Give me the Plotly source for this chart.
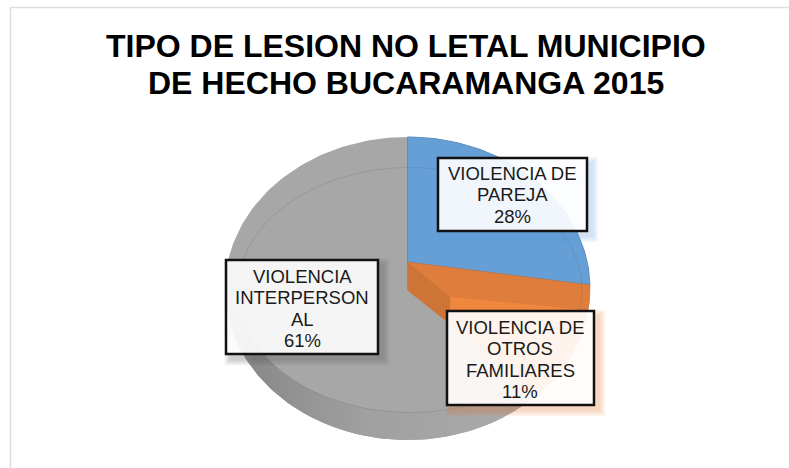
import numpy as np
import plotly.graph_objects as go

# ---- data ----
categories = ["VIOLENCIA DE PAREJA", "VIOLENCIA DE OTROS FAMILIARES", "VIOLENCIA INTERPERSONAL"]
values = [28, 11, 61]
label_lines = [
    ["VIOLENCIA DE", "PAREJA"],
    ["VIOLENCIA DE", "OTROS", "FAMILIARES"],
    ["VIOLENCIA", "INTERPERSON", "AL"],
]
title_lines = ["TIPO DE LESION NO LETAL MUNICIPIO", "DE HECHO BUCARAMANGA 2015"]

# ---- styling / layout ----
W, H = 789, 468
FONT = "Liberation Sans, Arial, sans-serif"
BLUE, ORANGE, ORANGE_LIGHT, GREY = "#659fd6", "#df7d3c", "#f0873f", "#a7a7a7"
CX, CY, RX, RY = 407.5, 288.5, 182.5, 151.5      # outer silhouette
IX, IY, IRX, IRY = 410, 290, 172, 122.5          # bevel line
APEX_TOP, APEX_BOT = 262, 290
TILT = 0.66
BOXES = [  # x0, x1, y0, y1, text centre x, first line y, shadow colour
    (438, 587, 158, 231, 512.5, 173, "91,155,213"),
    (447, 594, 311, 405, 520, 327, "237,125,49"),
    (226, 378, 260, 354, 302, 276, "70,70,70"),
]
LINE_PITCH = 21.6


def ray_hit(x0, y0, dx, dy):
    """Where the ray from (x0, y0) leaves the silhouette ellipse."""
    a = (dx / RX) ** 2 + (dy / RY) ** 2
    b = 2 * ((x0 - CX) * dx / RX**2 + (y0 - CY) * dy / RY**2)
    c = ((x0 - CX) / RX) ** 2 + ((y0 - CY) / RY) ** 2 - 1
    return (-b + np.sqrt(b * b - 4 * a * c)) / (2 * a)


def rim_angle(x, y):
    return np.arctan2((y - CY) / RY, (x - CX) / RX)


def rim(p0, p1, n=60):
    t0, t1 = rim_angle(*p0), rim_angle(*p1)
    while t1 < t0:
        t1 += 2 * np.pi
    t = np.linspace(t0, t1, n)
    return CX + RX * np.cos(t), CY + RY * np.sin(t)


def on_rim(theta, y0):
    dx, dy = np.sin(theta), -np.cos(theta) * TILT
    s = ray_hit(CX, y0, dx, dy)
    return CX + s * dx, y0 + s * dy


cum = np.cumsum(values) / sum(values) * 2 * np.pi
p_top = on_rim(0, APEX_TOP)
p_blue = on_rim(cum[0], APEX_TOP)
p_orange = on_rim(cum[1], APEX_BOT)

fig = go.Figure()
t = np.linspace(0, 2 * np.pi, 241)

# whole silhouette
fig.add_trace(go.Scatter(x=CX + RX * np.cos(t), y=CY + RY * np.sin(t), mode="lines",
                         fill="toself", fillcolor=GREY, line=dict(width=0),
                         hoverinfo="skip", showlegend=False))

# side wall: crescent between rim and bevel on the lower left
ta = np.linspace(np.radians(58), np.radians(172), 120)
wx = np.r_[CX + RX * np.cos(ta), (IX + IRX * np.cos(ta))[::-1]]
wy = np.r_[CY + RY * np.sin(ta), (IY + IRY * np.sin(ta))[::-1]]
fig.add_trace(go.Scatter(x=wx, y=wy, mode="lines", fill="toself", line=dict(width=0),
                         fillgradient=dict(type="horizontal",
                                           colorscale=[[0, "#a7a7a7"], [0.1, "#8a8a8a"], [0.5, "#a0a0a0"], [1, "#a9a9a9"]]),
                         hoverinfo="skip", showlegend=False))

# blue wedge
rx_, ry_ = rim(p_top, p_blue)
fig.add_trace(go.Scatter(x=np.r_[CX, rx_, CX], y=np.r_[APEX_TOP, ry_, APEX_TOP], mode="lines",
                         fill="toself", fillcolor=BLUE, line=dict(width=1, color="#5c8fbf"),
                         name=categories[0], hoverinfo="skip", showlegend=False))

# orange wedge
rx_, ry_ = rim(p_blue, p_orange)
fig.add_trace(go.Scatter(x=np.r_[CX, rx_, CX, CX], y=np.r_[APEX_TOP, ry_, APEX_BOT, APEX_TOP], mode="lines",
                         fill="toself", fillcolor=ORANGE, line=dict(width=0.6, color="#c9733a"),
                         name=categories[1], hoverinfo="skip", showlegend=False))

# dark facet beside the apex, then lighter top part of the orange wedge
inner = (450, 297)
s_low = (inner[0] - CX) / (p_orange[0] - CX)
low = (inner[0], APEX_BOT + s_low * (p_orange[1] - APEX_BOT))
fig.add_trace(go.Scatter(x=[CX, inner[0], low[0], CX, CX], y=[APEX_TOP, inner[1], low[1], APEX_BOT, APEX_TOP],
                         mode="lines", fill="toself", fillcolor="#cd7437", line=dict(width=0),
                         hoverinfo="skip", showlegend=False))
edge = rim_angle(587, 310)
end = rim_angle(*p_orange)
tt = np.linspace(edge, end, 40)
fig.add_trace(go.Scatter(
    x=np.r_[inner[0], CX + RX * np.cos(tt), low[0]],
    y=np.r_[inner[1], CY + RY * np.sin(tt), low[1]],
    mode="lines", fill="toself", fillcolor=ORANGE_LIGHT, line=dict(width=0),
    hoverinfo="skip", showlegend=False))

# bevel line
tb = np.linspace(np.radians(-175), np.radians(180), 241)
fig.add_trace(go.Scatter(x=IX + IRX * np.cos(tb), y=IY + IRY * np.sin(tb), mode="lines",
                         line=dict(width=1, color="rgba(90,90,90,0.2)"),
                         hoverinfo="skip", showlegend=False))

shapes = [
    dict(type="line", x0=10.5, x1=10.5, y0=7, y1=H, line=dict(color="#dedede", width=1.5), layer="below"),
    dict(type="line", x0=10, x1=W, y0=7.5, y1=7.5, line=dict(color="#dedede", width=1.5), layer="below"),
]
annotations = []

for line, (xs, ys) in zip(title_lines, [(406, 45.5), (406, 83)]):
    annotations.append(dict(x=xs, y=ys, text="<b>%s</b>" % line, showarrow=False, xanchor="center",
                            yanchor="middle", font=dict(family=FONT, size=32, color="#000000")))

for lines, v, (x0, x1, y0, y1, xc, yt, sc) in zip(label_lines, values, BOXES):
    for k in range(6, 0, -1):
        g = k * 1.1
        shapes.append(dict(type="rect", x0=x0 + 5 - g, x1=x1 + 5 + g, y0=y0 + 5 - g, y1=y1 + 5 + g,
                           line=dict(width=0), fillcolor="rgba(%s,0.05)" % sc, layer="above"))
    shapes.append(dict(type="rect", x0=x0, x1=x1, y0=y0, y1=y1, layer="above",
                       line=dict(color="#111111", width=2.5), fillcolor="rgba(255,255,255,0.91)"))
    for i, txt in enumerate(lines + ["%d%%" % v]):
        annotations.append(dict(x=xc, y=yt + i * LINE_PITCH, text=txt, showarrow=False, xanchor="center",
                                yanchor="middle", font=dict(family=FONT, size=18.5, color="#1a1a1a")))

fig.update_layout(
    width=W, height=H, margin=dict(l=0, r=0, t=0, b=0, pad=0),
    paper_bgcolor="#ffffff", plot_bgcolor="#ffffff", showlegend=False,
    xaxis=dict(range=[0, W], visible=False, fixedrange=True),
    yaxis=dict(range=[H, 0], visible=False, fixedrange=True),
    shapes=shapes, annotations=annotations,
)
fig.write_html("out.html", config={"displayModeBar": False},
               post_script="document.body.style.margin='0';document.body.style.overflow='hidden';")
